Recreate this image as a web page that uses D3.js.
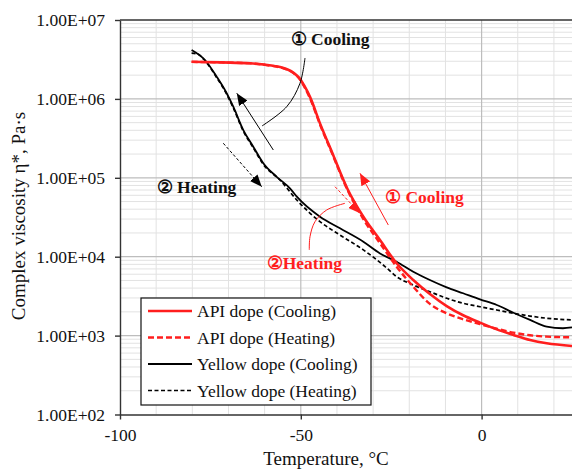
<!DOCTYPE html>
<html>
<head>
<meta charset="utf-8">
<script src="https://cdn.jsdelivr.net/npm/d3@7"></script>
<style>
body { margin: 0; background: #fff; }
svg { display: block; font-family: "Liberation Serif", "Times New Roman", serif; }
</style>
</head>
<body>
<svg id="chart"></svg>
<script>
// --- data ---
const apiCoolT = [-80.2, -72, -64, -60, -57, -55, -53.5, -52, -50.5, -49, -47.46, -44.5, -41.65, -36.95, -32.7, -28.1, -23.5, -18.9, -14.3, -9.65, -5.1, -0.44, 4.2, 8.8, 13.4, 18, 25];
const apiCoolV = [2.96e6, 2.9e6, 2.83e6, 2.72e6, 2.6e6, 2.48e6, 2.34e6, 2.14e6, 1.86e6, 1.46e6, 1.06e6, 4.65e5, 2.27e5, 7.0e4, 3.21e4, 1.63e4, 8.25e3, 5.07e3, 3.37e3, 2.37e3, 1.81e3, 1.46e3, 1.2e3, 1.02e3, 8.8e2, 7.98e2, 7.38e2];

const apiHeatT = [-80.2, -72, -64, -60, -57, -55, -53.5, -52, -50.5, -49, -47.46, -44.5, -41.65, -36.95, -32.7, -28.1, -23.5, -18.9, -14.3, -9.65, -5.1, -0.44, 4.2, 8.8, 13.4, 18, 25];
const apiHeatV = [2.95e6, 2.9e6, 2.82e6, 2.7e6, 2.58e6, 2.46e6, 2.32e6, 2.12e6, 1.83e6, 1.42e6, 1.02e6, 4.5e5, 2.2e5, 6.8e4, 3.0e4, 1.48e4, 7.47e3, 4.17e3, 2.52e3, 1.92e3, 1.61e3, 1.40e3, 1.22e3, 1.09e3, 1.01e3, 9.7e2, 9.5e2];

const yelCoolT = [-80.2, -76.5, -73.26, -70.5, -68.67, -65.9, -63.14, -60.37, -56.67, -53, -51.1, -44.7, -39.16, -32.7, -28.1, -23.5, -18.9, -14.3, -9.65, -5.1, -0.44, 4.2, 8.8, 13.4, 18, 22.5, 25];
const yelCoolV = [4.17e6, 3.11e6, 1.91e6, 1.18e6, 7.96e5, 4.03e5, 2.48e5, 1.53e5, 1.03e5, 7.36e4, 5.76e4, 3.21e4, 2.29e4, 1.55e4, 1.1e4, 8.65e3, 6.46e3, 5.07e3, 4.09e3, 3.44e3, 2.88e3, 2.44e3, 1.95e3, 1.58e3, 1.30e3, 1.24e3, 1.27e3];

const yelHeatT = [-80.2, -78.5, -76.5, -73.26, -70.5, -68.67, -65.9, -63.14, -60.37, -55.75, -51.1, -44.7, -39.16, -32.7, -26.7, -23.5, -18.9, -14.3, -9.65, -5.1, -0.44, 4.2, 8.8, 13.4, 18, 25];
const yelHeatV = [3.8e6, 3.7e6, 3.05e6, 1.86e6, 1.15e6, 7.7e5, 3.9e5, 2.4e5, 1.48e5, 9.38e4, 5.23e4, 2.78e4, 1.88e4, 1.22e4, 7.5e3, 5.58e3, 4.38e3, 3.6e3, 2.97e3, 2.57e3, 2.32e3, 2.11e3, 1.92e3, 1.77e3, 1.66e3, 1.58e3];

const seriesNames = ['API dope (Cooling)', 'API dope (Heating)', 'Yellow dope (Cooling)', 'Yellow dope (Heating)'];
const xTicks = [-100, -50, 0];
const yTicks = [1e2, 1e3, 1e4, 1e5, 1e6, 1e7];

// annotation anchors, in data units [temperature, viscosity]
const blackCoolArrow = [[-57.6, 2.25e5], [-67.7, 1.18e6]];
const blackCoolLink = [[-48.84, 3.3e6], [-50.22, 1.58e6], [-53.9, 7.96e5], [-60.73, 4.54e5]];
const blackHeatArrow = [[-71.43, 2.74e5], [-60.81, 7.71e4]];
const redCoolArrow = [[-25.8, 2.52e4], [-33.63, 1.14e5]];
const redHeatArrow = [[-40.54, 7.71e4], [-33.63, 3.55e4]];
const redHeatLink = [[-37.78, 4.75e4], [-42.84, 3.91e4], [-46.07, 2.78e4], [-47.46, 1.79e4], [-47.65, 1.22e4]];
const labels = [
	{ text: '\u2460 Cooling', at: [-52.8, 4.82e6], color: 'black' },
	{ text: '\u2461 Heating', at: [-89.85, 6.41e4], color: 'black' },
	{ text: '\u2460 Cooling', at: [-26.7, 4.79e4], color: 'red' },
	{ text: '\u2461Heating', at: [-59.43, 6.98e3], color: 'red' }
];

const width = 572, height = 470;
const plotLeft = 120, plotRight = 572, plotTop = 20, plotBottom = 414.5;
const RED = '#ff1e1e';

const svg = d3.select('#chart').attr('width', width).attr('height', height);

const xScale = d3.scaleLinear().domain([-100, 25]).range([plotLeft, plotRight]);
const yScale = d3.scaleLog().domain([1e2, 1e7]).range([plotBottom, plotTop]);

// grid
const grid = svg.append('g');
const minorX = d3.range(-90, 25, 10).filter(d => d !== -50 && d !== 0);
grid.selectAll('.vminor').data(minorX).enter().append('line')
	.attr('x1', d => xScale(d)).attr('x2', d => xScale(d))
	.attr('y1', plotTop).attr('y2', plotBottom)
	.attr('stroke', '#e2e2e2').attr('stroke-width', 1);

const minorY = [];
for (let e = 2; e < 7; e++) {
	for (let m = 2; m <= 9; m++) minorY.push(m * Math.pow(10, e));
}
grid.selectAll('.hminor').data(minorY).enter().append('line')
	.attr('x1', plotLeft).attr('x2', plotRight)
	.attr('y1', d => yScale(d)).attr('y2', d => yScale(d))
	.attr('stroke', '#e2e2e2').attr('stroke-width', 1);

grid.selectAll('.vmajor').data([-50, 0]).enter().append('line')
	.attr('x1', d => xScale(d)).attr('x2', d => xScale(d))
	.attr('y1', plotTop).attr('y2', plotBottom)
	.attr('stroke', '#bdbdbd').attr('stroke-width', 1.2);
grid.selectAll('.hmajor').data(yTicks.slice(1, 5)).enter().append('line')
	.attr('x1', plotLeft).attr('x2', plotRight)
	.attr('y1', d => yScale(d)).attr('y2', d => yScale(d))
	.attr('stroke', '#bdbdbd').attr('stroke-width', 1.2);

// top border
svg.append('line')
	.attr('x1', plotLeft).attr('x2', plotRight)
	.attr('y1', yScale(1e7)).attr('y2', yScale(1e7))
	.attr('stroke', '#333').attr('stroke-width', 1.3);

// axes
const xAxis = d3.axisBottom(xScale).tickValues(xTicks).tickSize(5).tickSizeOuter(0).tickPadding(9)
	.tickFormat(d => String(d));
const yAxis = d3.axisLeft(yScale).tickValues(yTicks).tickSize(5).tickSizeOuter(0).tickPadding(10)
	.tickFormat(d => '1.00E+0' + Math.round(Math.log10(d)));

const gx = svg.append('g').attr('transform', `translate(0,${plotBottom})`).call(xAxis);
const gy = svg.append('g').attr('transform', `translate(${plotLeft},0)`).call(yAxis);
[gx, gy].forEach(g => {
	g.select('.domain').attr('stroke', '#333').attr('stroke-width', 1.4);
	g.selectAll('.tick line').attr('stroke', '#333').attr('stroke-width', 1.4);
	g.selectAll('.tick text').attr('fill', '#111').style('font-size', '17.5px')
		.style('font-family', '"Liberation Serif", "Times New Roman", serif');
});

// titles
svg.append('text')
	.attr('transform', 'translate(25,216) rotate(-90)')
	.attr('text-anchor', 'middle')
	.style('font-size', '19px').attr('fill', '#111')
	.text('Complex viscosity \u03b7*, Pa\u00b7s');
svg.append('text')
	.attr('x', 326).attr('y', 465)
	.attr('text-anchor', 'middle')
	.style('font-size', '19px').attr('fill', '#111')
	.text('Temperature, \u00b0C');

// curves
svg.append('clipPath').attr('id', 'plotclip').append('rect')
	.attr('x', plotLeft).attr('y', plotTop).attr('width', plotRight - plotLeft).attr('height', plotBottom - plotTop);

const line = d3.line()
	.x(d => xScale(d[0]))
	.y(d => yScale(d[1]))
	.curve(d3.curveMonotoneX);

const zip = (ts, vs) => ts.map((t, i) => [t, vs[i]]);

const series = [
	{ pts: zip(yelHeatT, yelHeatV), color: 'black', w: 1.7, dash: '4,2.5' },
	{ pts: zip(yelCoolT, yelCoolV), color: 'black', w: 1.8, dash: null },
	{ pts: zip(apiHeatT, apiHeatV), color: RED, w: 2.4, dash: '6,3' },
	{ pts: zip(apiCoolT, apiCoolV), color: RED, w: 2.6, dash: null }
];

const plot = svg.append('g').attr('clip-path', 'url(#plotclip)');
series.forEach(s => {
	plot.append('path')
		.datum(s.pts)
		.attr('d', line)
		.attr('fill', 'none')
		.attr('stroke', s.color)
		.attr('stroke-width', s.w)
		.attr('stroke-dasharray', s.dash);
});

// arrow markers
const defs = svg.append('defs');
[['arrBlack', 'black'], ['arrRed', RED]].forEach(([id, c]) => {
	defs.append('marker')
		.attr('id', id)
		.attr('markerUnits', 'userSpaceOnUse')
		.attr('viewBox', '0 0 12 10')
		.attr('refX', 12).attr('refY', 5)
		.attr('markerWidth', 12).attr('markerHeight', 10)
		.attr('orient', 'auto')
		.append('path')
		.attr('d', 'M0,0 L12,5 L0,10 Z')
		.attr('fill', c);
});

const straight = d3.line().x(d => xScale(d[0])).y(d => yScale(d[1]));
const bent = d3.line().x(d => xScale(d[0])).y(d => yScale(d[1])).curve(d3.curveCatmullRom);

const notes = svg.append('g');
notes.append('path').datum(blackCoolArrow).attr('d', straight)
	.attr('stroke', 'black').attr('stroke-width', 1).attr('fill', 'none')
	.attr('marker-end', 'url(#arrBlack)');
notes.append('path').datum(blackCoolLink).attr('d', bent)
	.attr('stroke', 'black').attr('stroke-width', 1).attr('fill', 'none');
notes.append('path').datum(blackHeatArrow).attr('d', straight)
	.attr('stroke', 'black').attr('stroke-width', 1).attr('fill', 'none')
	.attr('stroke-dasharray', '3,2')
	.attr('marker-end', 'url(#arrBlack)');
notes.append('path').datum(redCoolArrow).attr('d', straight)
	.attr('stroke', RED).attr('stroke-width', 1).attr('fill', 'none')
	.attr('marker-end', 'url(#arrRed)');
notes.append('path').datum(redHeatArrow).attr('d', straight)
	.attr('stroke', RED).attr('stroke-width', 1).attr('fill', 'none')
	.attr('stroke-dasharray', '3,2')
	.attr('marker-end', 'url(#arrRed)');
notes.append('path').datum(redHeatLink).attr('d', bent)
	.attr('stroke', RED).attr('stroke-width', 1).attr('fill', 'none');

notes.selectAll('.lbl').data(labels).enter().append('text')
	.attr('x', d => xScale(d.at[0]))
	.attr('y', d => yScale(d.at[1]))
	.attr('fill', d => d.color === 'red' ? RED : '#111')
	.style('font-size', '17.5px')
	.style('font-weight', 'bold')
	.text(d => d.text);

// legend
const legend = svg.append('g').attr('transform', 'translate(141,298)');
legend.append('rect')
	.attr('width', 230).attr('height', 107)
	.attr('fill', '#fff').attr('stroke', '#111').attr('stroke-width', 1.2);
const legendStyle = [
	{ color: RED, w: 2.6, dash: null },
	{ color: RED, w: 2.4, dash: '6,3' },
	{ color: 'black', w: 1.8, dash: null },
	{ color: 'black', w: 1.7, dash: '4,2.5' }
];
const row = legend.selectAll('.row').data(seriesNames).enter().append('g')
	.attr('transform', (d, i) => `translate(0,${13 + i * 26.5})`);
row.append('line')
	.attr('x1', 7).attr('x2', 51).attr('y1', 0).attr('y2', 0)
	.attr('stroke', (d, i) => legendStyle[i].color)
	.attr('stroke-width', (d, i) => legendStyle[i].w)
	.attr('stroke-dasharray', (d, i) => legendStyle[i].dash);
row.append('text')
	.attr('x', 56).attr('y', 6)
	.attr('fill', '#111')
	.style('font-size', '17.5px')
	.text(d => d);
</script>
</body>
</html>
